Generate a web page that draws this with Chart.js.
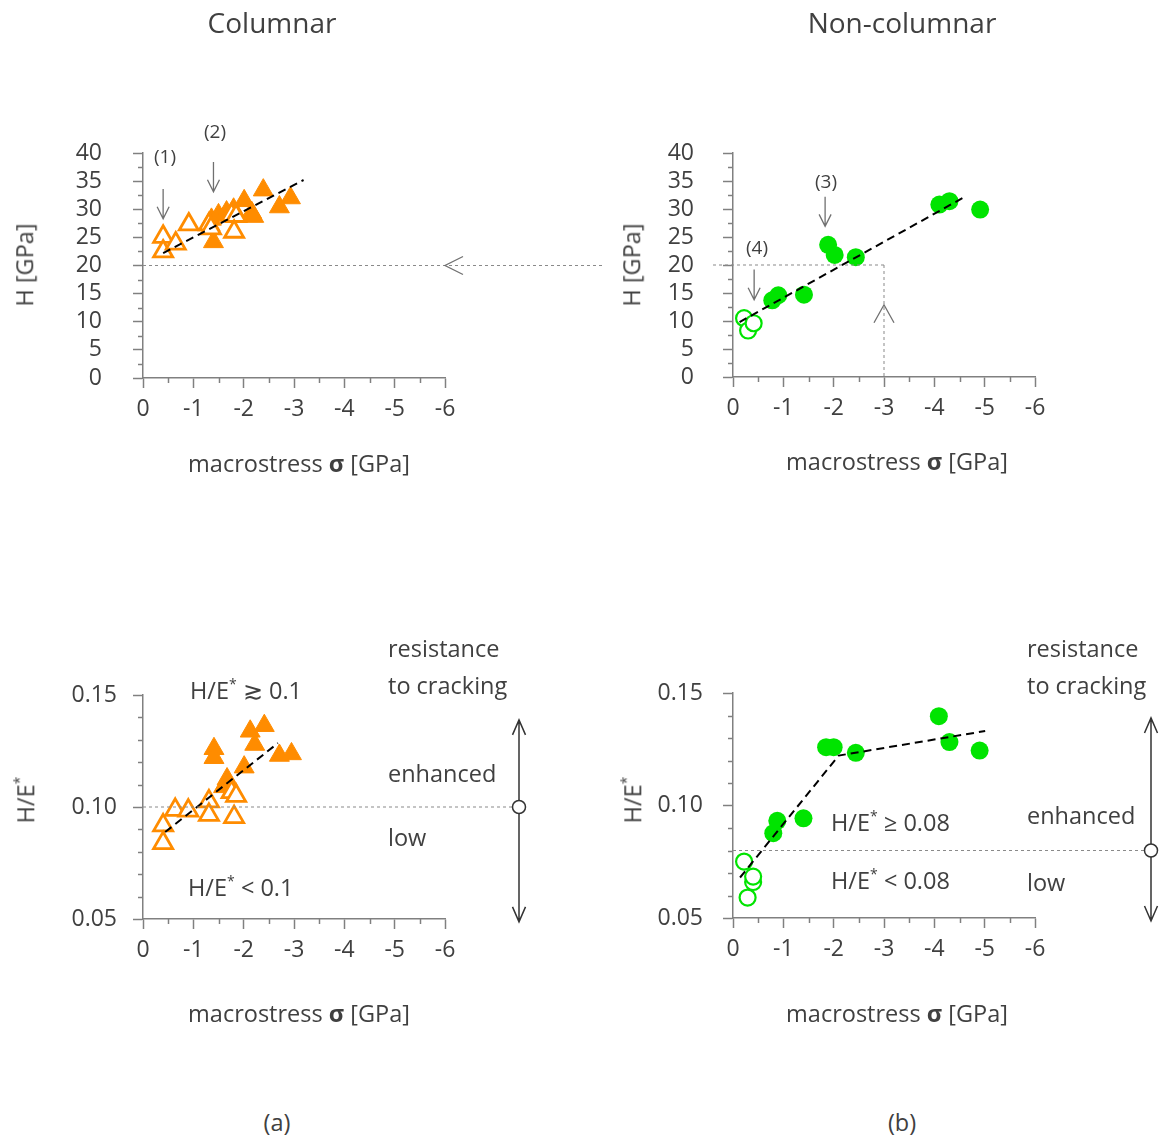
<!DOCTYPE html>
<html>
<head>
<meta charset="utf-8">
<script src="https://cdn.jsdelivr.net/npm/chart.js@4.4.0/dist/chart.umd.min.js"></script>
<style>
  body { margin: 0; background: #fff; }
  #wrap { position: relative; width: 1166px; height: 1140px; font-family: 'Open Sans', sans-serif; font-weight: 400; color: #404040; }
  canvas { position: absolute; }
  .c, .l, .r { position: absolute; white-space: nowrap; line-height: 1; font-size: 23.5px; }
  .c { transform: translate(-50%, -50%); }
  .l { transform: translateY(-50%); }
  .r { transform: translate(-50%, -50%) rotate(-90deg); }
  .big { font-size: 28px; }
  .sm { font-size: 19px; }
  sup { font-size: 60%; vertical-align: 0.7em; }
  b { font-weight: 700; }
</style>
</head>
<body>
<div id="wrap">
  <canvas id="tl" width="610" height="500" style="left:0;top:0"></canvas>
  <canvas id="tr" width="583" height="500" style="left:583px;top:0"></canvas>
  <canvas id="bl" width="583" height="450" style="left:0;top:560px"></canvas>
  <canvas id="br" width="583" height="450" style="left:583px;top:560px"></canvas>

  <div class="c big" style="left:272px;top:22px">Columnar</div>
  <div class="c big" style="left:902px;top:22px">Non-columnar</div>

  <div class="r" style="left:25px;top:265px">H [GPa]</div>
  <div class="r" style="left:632px;top:265px">H [GPa]</div>
  <div class="r" style="left:25px;top:800px">H/E<sup>*</sup></div>
  <div class="r" style="left:632px;top:800px">H/E<sup>*</sup></div>

  <div class="c" style="left:299px;top:464px">macrostress <b>σ</b> [GPa]</div>
  <div class="c" style="left:897px;top:462px">macrostress <b>σ</b> [GPa]</div>
  <div class="c" style="left:299px;top:1014px">macrostress <b>σ</b> [GPa]</div>
  <div class="c" style="left:897px;top:1014px">macrostress <b>σ</b> [GPa]</div>

  <div class="c sm" style="left:165px;top:156px">(1)</div>
  <div class="c sm" style="left:215px;top:131px">(2)</div>
  <div class="c sm" style="left:826px;top:181px">(3)</div>
  <div class="c sm" style="left:757px;top:247px">(4)</div>

  <div class="l" style="left:388px;top:649px">resistance</div>
  <div class="l" style="left:388px;top:686px">to cracking</div>
  <div class="l" style="left:388px;top:774px">enhanced</div>
  <div class="l" style="left:388px;top:838px">low</div>
  <div class="l" style="left:190px;top:690px">H/E<sup>*</sup> ≳ 0.1</div>
  <div class="l" style="left:188px;top:887px">H/E<sup>*</sup> &lt; 0.1</div>

  <div class="l" style="left:1027px;top:649px">resistance</div>
  <div class="l" style="left:1027px;top:686px">to cracking</div>
  <div class="l" style="left:1027px;top:816px">enhanced</div>
  <div class="l" style="left:1027px;top:883px">low</div>
  <div class="l" style="left:831px;top:822px">H/E<sup>*</sup> ≥ 0.08</div>
  <div class="l" style="left:831px;top:880px">H/E<sup>*</sup> &lt; 0.08</div>

  <div class="c" style="left:277px;top:1123px">(a)</div>
  <div class="c" style="left:902px;top:1123px">(b)</div>
</div>
<script>
// columnar coatings - hardness
const colOpenStress = [-0.40, -0.40, -0.65, -0.91, -1.31, -1.35, -1.76, -1.85, -1.81];
const colOpenH = [25.1, 22.5, 23.9, 27.3, 27.3, 26.6, 29.0, 28.8, 26.0];
const colFullStress = [-1.40, -1.36, -1.50, -1.66, -1.80, -2.01, -2.16, -2.20, -2.39, -2.71, -2.93];
const colFullH = [24.2, 28.2, 29.0, 29.5, 30.0, 31.5, 29.4, 28.7, 33.4, 30.4, 32.0];
const colTrendStress = [-0.40, -3.19];
const colTrendH = [22.2, 35.2];

// columnar - H/E*
const colOpenStress2 = [-0.40, -0.40, -0.64, -0.90, -1.31, -1.31, -1.76, -1.85, -1.81];
const colOpenHE = [0.0918, 0.0839, 0.0987, 0.0984, 0.1025, 0.0965, 0.1066, 0.1050, 0.0955];
const colFullStress2 = [-1.41, -1.41, -1.67, -1.60, -2.01, -2.13, -2.22, -2.41, -2.71, -2.95];
const colFullHE = [0.1260, 0.1220, 0.1125, 0.1090, 0.1178, 0.1338, 0.1279, 0.1363, 0.1230, 0.1237];
const colTrendStress2 = [-0.44, -2.68];
const colTrendHE = [0.0888, 0.1285];

// non-columnar - hardness
const ncOpenStress = [-0.22, -0.30, -0.41];
const ncOpenH = [10.5, 8.3, 9.6];
const ncFullStress = [-0.78, -0.90, -1.41, -1.89, -2.02, -2.44, -4.10, -4.30, -4.91];
const ncFullH = [13.7, 14.6, 14.7, 23.6, 21.8, 21.4, 30.8, 31.4, 29.9];
const ncTrendStress = [-0.13, -4.63];
const ncTrendH = [9.8, 32.3];

// non-columnar - H/E*
const ncOpenStress2 = [-0.22, -0.40, -0.40, -0.29];
const ncOpenHE = [0.0751, 0.0660, 0.0684, 0.0591];
const ncFullStress2 = [-0.80, -0.88, -1.40, -1.85, -2.00, -2.44, -4.09, -4.30, -4.90];
const ncFullHE = [0.0877, 0.0932, 0.0943, 0.1259, 0.1259, 0.1234, 0.1397, 0.1282, 0.1244];
const ncTrendStress2 = [-0.14, -2.10, -5.01];
const ncTrendHE = [0.068, 0.1222, 0.1331];

const stressTicks = [0, -1, -2, -3, -4, -5, -6];
const hTicks = [0, 5, 10, 15, 20, 25, 30, 35, 40];
const heTicks = [0.05, 0.10, 0.15];

const axisColor = '#808080';
const textColor = '#404040';
const orange = '#ff8c00';
const green = '#00e400';
const tickFont = { family: "'Open Sans', sans-serif", size: 23, weight: '400' };

const pts = (xs, ys) => xs.map((x, i) => ({ x: x, y: ys[i] }));
const isMajor = (v, list) => list.some(m => Math.abs(m - v) < 1e-6);

function stressAxis() {
  return {
    type: 'linear', min: -6, max: 0, reverse: true,
    border: { color: axisColor, width: 1.5 },
    grid: { drawOnChartArea: false, tickLength: 10, tickWidth: 1.5,
      tickColor: c => isMajor(c.tick.value, stressTicks) ? axisColor : 'rgba(0,0,0,0)' },
    ticks: { stepSize: 0.5, autoSkip: false, maxRotation: 0, padding: 8, color: textColor, font: tickFont,
      callback: v => isMajor(v, stressTicks) ? String(Math.round(v)) : '' },
    afterFit: s => { s.height = 60; }
  };
}

function hAxis(pad) {
  return {
    type: 'linear', min: 0, max: 40,
    border: { color: axisColor, width: 1.5 },
    grid: { drawOnChartArea: false, tickLength: 10, tickWidth: 1.5,
      tickColor: c => isMajor(c.tick.value, hTicks) ? axisColor : 'rgba(0,0,0,0)' },
    ticks: { stepSize: 2.5, autoSkip: false, padding: pad, color: textColor, font: tickFont,
      callback: v => isMajor(v, hTicks) ? String(Math.round(v)) : '' },
    afterFit: s => { s.width = 100; }
  };
}

function heAxis(pad) {
  return {
    type: 'linear', min: 0.05, max: 0.15,
    border: { color: axisColor, width: 1.5 },
    grid: { drawOnChartArea: false, tickLength: 10, tickWidth: 1.5,
      tickColor: c => isMajor(c.tick.value, heTicks) ? axisColor : 'rgba(0,0,0,0)' },
    ticks: { stepSize: 0.01, autoSkip: false, padding: pad, color: textColor, font: tickFont,
      callback: v => isMajor(v, heTicks) ? v.toFixed(2) : '' },
    afterFit: s => { s.width = 100; }
  };
}

// short ticks for the unlabeled positions
const minorTicks = {
  id: 'minorTicks',
  afterDraw(chart) {
    const ctx = chart.ctx;
    ctx.save();
    ctx.strokeStyle = axisColor;
    ctx.lineWidth = 1.5;
    ['x', 'y'].forEach(id => {
      const s = chart.scales[id];
      s.ticks.forEach((t, i) => {
        if (t.label !== '') return;
        const p = Math.round(s.getPixelForTick(i)) + 0.5;
        ctx.beginPath();
        if (id === 'x') { ctx.moveTo(p, s.top); ctx.lineTo(p, s.top + 5); }
        else { ctx.moveTo(s.right, p); ctx.lineTo(s.right - 5, p); }
        ctx.stroke();
      });
    });
    ctx.restore();
  }
};

function dotted(ctx, x1, y1, x2, y2) {
  ctx.save();
  ctx.strokeStyle = '#8a8a8a';
  ctx.lineWidth = 1;
  ctx.setLineDash([3, 3]);
  ctx.beginPath();
  ctx.moveTo(x1, y1);
  ctx.lineTo(x2, y2);
  ctx.stroke();
  ctx.restore();
}

function downArrow(ctx, x, y1, y2) {
  ctx.save();
  ctx.strokeStyle = '#707070';
  ctx.lineWidth = 1.3;
  ctx.beginPath();
  ctx.moveTo(x, y1); ctx.lineTo(x, y2);
  ctx.moveTo(x - 6, y2 - 12); ctx.lineTo(x, y2); ctx.lineTo(x + 6, y2 - 12);
  ctx.stroke();
  ctx.restore();
}

function doubleArrow(ctx, x, yTop, yBot, yMid) {
  ctx.save();
  ctx.strokeStyle = '#333';
  ctx.lineWidth = 1.5;
  ctx.beginPath();
  ctx.moveTo(x, yTop); ctx.lineTo(x, yBot);
  ctx.moveTo(x - 6.5, yTop + 15); ctx.lineTo(x, yTop); ctx.lineTo(x + 6.5, yTop + 15);
  ctx.moveTo(x - 6.5, yBot - 15); ctx.lineTo(x, yBot); ctx.lineTo(x + 6.5, yBot - 15);
  ctx.stroke();
  ctx.beginPath();
  ctx.arc(x, yMid, 6.5, 0, Math.PI * 2);
  ctx.fillStyle = '#fff';
  ctx.fill();
  ctx.stroke();
  ctx.restore();
}

function trend(xs, ys) {
  return { data: pts(xs, ys), showLine: true, borderColor: '#000', borderWidth: 2,
    borderDash: [8, 5], pointRadius: 0, fill: false };
}
function openTri(xs, ys) {
  return { data: pts(xs, ys), pointStyle: 'triangle', pointRadius: 11,
    pointBorderWidth: 2.8, pointBorderColor: orange, pointBackgroundColor: '#fff' };
}
function fullTri(xs, ys) {
  return { data: pts(xs, ys), pointStyle: 'triangle', pointRadius: 11.5,
    pointBorderWidth: 1, pointBorderColor: orange, pointBackgroundColor: orange };
}
function openDot(xs, ys) {
  return { data: pts(xs, ys), pointStyle: 'circle', pointRadius: 8,
    pointBorderWidth: 2.2, pointBorderColor: green, pointBackgroundColor: '#fff' };
}
function fullDot(xs, ys) {
  return { data: pts(xs, ys), pointStyle: 'circle', pointRadius: 9,
    pointBorderWidth: 0, pointBorderColor: green, pointBackgroundColor: green };
}

function makeChart(id, datasets, yAxis, padding, deco) {
  return new Chart(document.getElementById(id), {
    type: 'scatter',
    data: { datasets: datasets },
    options: {
      responsive: false, animation: false, events: [],
      layout: { padding: padding },
      plugins: { legend: { display: false }, tooltip: { enabled: false } },
      scales: { x: stressAxis(), y: yAxis }
    },
    plugins: [minorTicks, { id: 'deco', afterDraw: deco }]
  });
}

makeChart('tl',
  [trend(colTrendStress, colTrendH), openTri(colOpenStress, colOpenH), fullTri(colFullStress, colFullH)],
  hAxis(31), { left: 43, top: 153, right: 165, bottom: 62 },
  chart => {
    const { ctx, scales: { x, y } } = chart;
    const y20 = y.getPixelForValue(20);
    dotted(ctx, x.left, y20, 605, y20);
    const xr = x.getPixelForValue(-6);
    ctx.save();
    ctx.strokeStyle = '#707070'; ctx.lineWidth = 1.3;
    ctx.beginPath();
    ctx.moveTo(xr + 18, y20 - 9); ctx.lineTo(xr, y20); ctx.lineTo(xr + 18, y20 + 9);
    ctx.stroke();
    ctx.restore();
    downArrow(ctx, x.getPixelForValue(-0.4), y.getPixelForValue(33.6), y.getPixelForValue(28.3));
    downArrow(ctx, x.getPixelForValue(-1.4), y.getPixelForValue(38.4), y.getPixelForValue(33.1));
  });

makeChart('tr',
  [trend(ncTrendStress, ncTrendH), openDot(ncOpenStress, ncOpenH), fullDot(ncFullStress, ncFullH)],
  hAxis(29), { left: 50, top: 153, right: 131, bottom: 63 },
  chart => {
    const { ctx, scales: { x, y } } = chart;
    const y20 = y.getPixelForValue(20);
    const x3 = x.getPixelForValue(-3);
    dotted(ctx, x.left - 20, y20, x3, y20);
    dotted(ctx, x3, y20, x3, y.getPixelForValue(0));
    const tip = y.getPixelForValue(12.9);
    ctx.save();
    ctx.strokeStyle = '#707070'; ctx.lineWidth = 1.3;
    ctx.beginPath();
    ctx.moveTo(x3 - 10, tip + 18); ctx.lineTo(x3, tip); ctx.lineTo(x3 + 10, tip + 18);
    ctx.stroke();
    ctx.restore();
    downArrow(ctx, x.getPixelForValue(-1.83), y.getPixelForValue(32.2), y.getPixelForValue(26.9));
    downArrow(ctx, x.getPixelForValue(-0.42), y.getPixelForValue(19.2), y.getPixelForValue(13.8));
  });

makeChart('bl',
  [trend(colTrendStress2, colTrendHE), openTri(colOpenStress2, colOpenHE), fullTri(colFullStress2, colFullHE)],
  heAxis(16), { left: 43, top: 135, right: 138, bottom: 31 },
  chart => {
    const { ctx, scales: { x, y } } = chart;
    const ax = x.right + 74;
    const ym = y.getPixelForValue(0.10);
    dotted(ctx, x.left, ym, ax, ym);
    doubleArrow(ctx, ax, y.getPixelForValue(0.1389), y.getPixelForValue(0.0487), ym);
  });

makeChart('br',
  [trend(ncTrendStress2, ncTrendHE), openDot(ncOpenStress2, ncOpenHE), fullDot(ncFullStress2, ncFullHE)],
  heAxis(20), { left: 50, top: 133, right: 131, bottom: 32 },
  chart => {
    const { ctx, scales: { x, y } } = chart;
    const ax = x.right + 116;
    const ym = y.getPixelForValue(0.08);
    dotted(ctx, x.left, ym, ax, ym);
    doubleArrow(ctx, ax, y.getPixelForValue(0.1389), y.getPixelForValue(0.0487), ym);
  });
</script>
</body>
</html>
